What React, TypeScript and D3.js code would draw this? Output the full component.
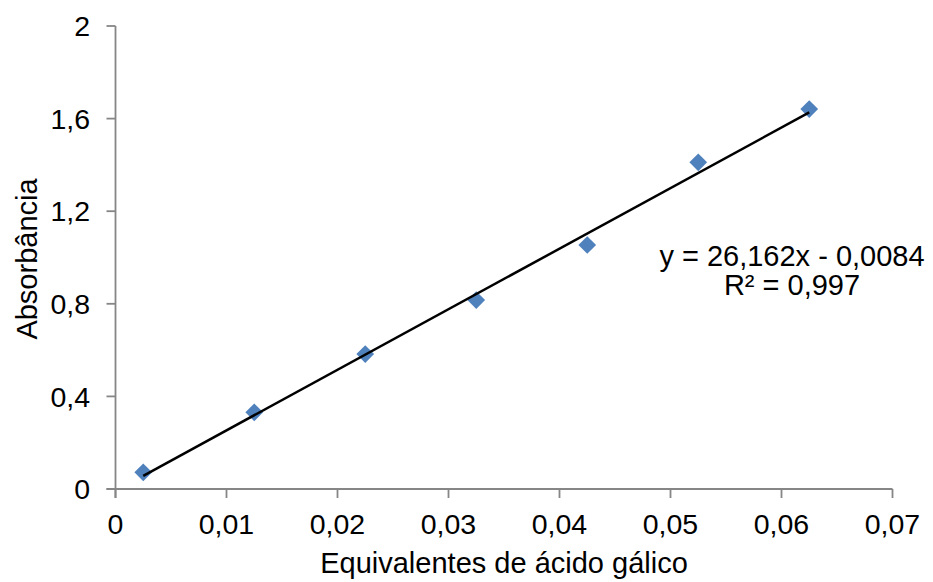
import React from "react";
import * as d3 from "d3";

const xValues = [0.0025, 0.0125, 0.0225, 0.0325, 0.0425, 0.0525, 0.0625];
const yValues = [0.072, 0.331, 0.583, 0.816, 1.054, 1.411, 1.641];
const xTicks = [0, 0.01, 0.02, 0.03, 0.04, 0.05, 0.06, 0.07];
const yTicks = [0, 0.4, 0.8, 1.2, 1.6, 2];
const slope = 26.162;
const intercept = -0.0084;
const equationLines = ["y = 26,162x - 0,0084", "R² = 0,997"];
const xTitle = "Equivalentes de ácido gálico";
const yTitle = "Absorbância";

const W = 933;
const H = 582;
const FONT = "'Liberation Sans', Arial, sans-serif";
const AXIS = "#868686";

const fmt = (v: number) => (v === 0 ? "0" : String(+v.toFixed(2)).replace(".", ","));

export default function App() {
  const x = d3.scaleLinear().domain([0, 0.07]).range([115.5, 892.5]);
  const y = d3.scaleLinear().domain([0, 2]).range([489, 26]);
  const x0 = xValues[0];
  const x1 = xValues[xValues.length - 1];
  const line = d3.line<number>().x((d) => x(d)).y((d) => y(slope * d + intercept));
  const diamond = d3.symbol().type(d3.symbolDiamond2 ?? d3.symbolDiamond).size(200)();
  return (
    <svg
      width={W}
      height={H}
      style={{ position: "absolute", left: 0, top: 0, background: "#fff" }}
      fontFamily={FONT}
    >
      <rect x={0} y={0} width={W} height={H} fill="#fff" />
      {/* y axis */}
      <line x1={x(0)} x2={x(0)} y1={y(2)} y2={y(0) + 9} stroke={AXIS} strokeWidth={1.8} />
      {yTicks.map((t) => (
        <g key={"y" + t}>
          <line x1={x(0) - 9} x2={x(0)} y1={y(t)} y2={y(t)} stroke={AXIS} strokeWidth={1.8} />
          <text x={90} y={y(t)} dy="0.36em" textAnchor="end" fontSize={28.5} fill="#000">
            {fmt(t)}
          </text>
        </g>
      ))}
      {/* x axis */}
      <line x1={x(0) - 9} x2={x(0.07)} y1={y(0)} y2={y(0)} stroke={AXIS} strokeWidth={1.8} />
      {xTicks.map((t) => (
        <g key={"x" + t}>
          <line x1={x(t)} x2={x(t)} y1={y(0)} y2={y(0) + 9} stroke={AXIS} strokeWidth={1.8} />
          <text x={x(t)} y={534} textAnchor="middle" fontSize={28.5} fill="#000">
            {fmt(t)}
          </text>
        </g>
      ))}
      {/* points */}
      {xValues.map((xv, i) => (
        <path
          key={"p" + i}
          d={diamond || ""}
          transform={`translate(${x(xv)},${y(yValues[i])})`}
          fill="#4F81BD"
        />
      ))}
      {/* trendline */}
      <path d={line([x0, x1]) || ""} stroke="#000" strokeWidth={2.5} fill="none" />
      {/* equation */}
      {equationLines.map((s, i) => (
        <text key={"e" + i} x={792} y={266 + i * 29} textAnchor="middle" fontSize={29} fill="#000">
          {s}
        </text>
      ))}
      {/* titles */}
      <text x={504} y={573} textAnchor="middle" fontSize={29} fill="#000">
        {xTitle}
      </text>
      <text
        transform={`translate(37,${259}) rotate(-90)`}
        textAnchor="middle"
        fontSize={29}
        fill="#000"
      >
        {yTitle}
      </text>
    </svg>
  );
}
